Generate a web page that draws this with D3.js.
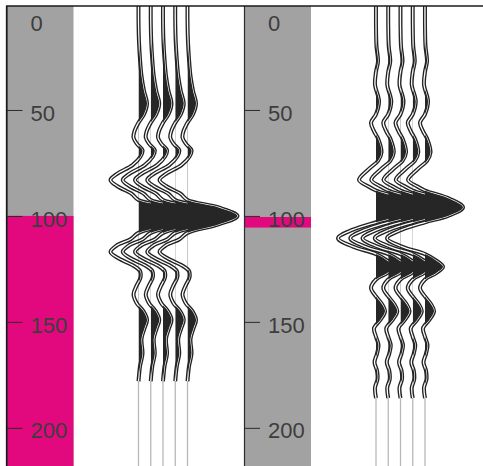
<!DOCTYPE html>
<html>
<head>
<meta charset="utf-8">
<script src="https://cdn.jsdelivr.net/npm/d3@7"></script>
<style>
  html, body { margin: 0; padding: 0; background: #fff; }
  svg { display: block; }
  .axis text { font-family: "Liberation Sans", Arial, sans-serif; font-size: 22px; fill: #3d3d3d; }
  .axis line, .axis path { stroke: #2b2b2b; }
</style>
</head>
<body>
<script>
// depth axis
const depthDomain = [0, 218];
const tickValues = [0, 50, 100, 150, 200];

// five identical traces per panel
const traceIds = [0, 1, 2, 3, 4];

// magenta layers (top, bottom) in depth units
const layerA = [100, 218];
const layerB = [100.5, 105.5];

// panel 1 wavelet: half-space reflection at 100
const waveATime = [0, 8, 18, 26, 34, 41, 47, 52, 56, 60, 63, 66, 69, 72, 76, 80, 83, 86, 89.5, 92.5,
  96, 100, 104, 108, 111, 114, 117, 120, 123.5, 126, 129, 133, 137, 141, 145, 149, 153, 158, 165, 171, 178];
const waveAAmp = [0, 0, 0.01, 0.03, 0.06, 0.11, 0.17, 0.11, 0, -0.08, -0.1, -0.03, 0.08, 0.04, -0.12, -0.42, -0.56, -0.42, -0.14, 0,
  0.62, 1.0, 0.62, 0, -0.16, -0.44, -0.56, -0.4, -0.1, 0.03, 0.04, -0.04, -0.1, -0.04, 0.1, 0.17, 0.12, 0.06, 0.08, 0.03, 0];

// panel 2 wavelet: thin layer 100-105
const waveBTime = [0, 10, 20, 27, 32, 38, 46, 52, 56, 60, 64, 70, 74, 78, 83, 86, 88, 92, 96, 100, 103,
  106.5, 110.5, 114.5, 118, 121, 124, 127, 130, 134, 138, 142, 145, 149, 153, 157, 161, 165, 169, 173, 177, 181, 186];
const waveBAmp = [0, 0, 0.01, 0.04, 0, -0.02, 0.06, 0, -0.1, -0.04, 0.05, 0.11, 0.04, -0.15, -0.34, -0.16, 0, 0.5, 0.76, 0.46, 0,
  -0.46, -0.76, -0.46, 0, 0.22, 0.36, 0.22, 0, -0.1, 0, 0.13, 0.18, 0.09, -0.04, 0, 0.05, 0.02, -0.03, 0.02, 0.03, -0.02, 0];

const W = 483, H = 466;
const frameTop = 6, gutter = 67;

const svg = d3.select('body').append('svg').attr('width', W).attr('height', H);

const y = d3.scaleLinear().domain(depthDomain).range([4, 466]);
const amp = d3.scaleLinear().domain([0, 1]).range([0, 50]);
const traceX = d3.scaleLinear().domain([0, 4]).range([132, 181]);

svg.append('clipPath').attr('id', 'frame')
  .append('rect').attr('x', -10).attr('y', frameTop).attr('width', W + 10).attr('height', H - frameTop);

const panels = [
  { left: 6.5, layer: layerA, t: waveATime, a: waveAAmp },
  { left: 244, layer: layerB, t: waveBTime, a: waveBAmp },
];

const tube = d3.line().curve(d3.curveCatmullRom);

panels.forEach((p, pi) => {
  const g = svg.append('g')
    .attr('transform', `translate(${p.left},0)`)
    .attr('clip-path', 'url(#frame)');

  g.append('rect')
    .attr('x', 0).attr('y', frameTop)
    .attr('width', gutter).attr('height', H - frameTop)
    .attr('fill', '#a2a2a2');

  g.append('rect')
    .attr('x', 0).attr('y', y(p.layer[0]))
    .attr('width', gutter).attr('height', y(p.layer[1]) - y(p.layer[0]))
    .attr('fill', '#e2097e');

  const axis = g.append('g').attr('class', 'axis')
    .call(d3.axisRight(y).tickValues(tickValues).tickSize(16).tickSizeOuter(0).tickPadding(8));
  axis.selectAll('text').attr('dy', d => d === 0 ? '1.2em' : '0.46em');
  axis.select('.domain').attr('stroke-width', 1.2);

  const traces = traceIds.map(i => {
    const base = traceX(i);
    return {
      base,
      pts: p.t.map((t, k) => [base + amp(p.a[k]), y(t)]),
      end: p.t[p.t.length - 1],
    };
  });

  // faint tails below the wavelet
  traces.forEach(tr => {
    g.append('line')
      .attr('x1', tr.base).attr('x2', tr.base)
      .attr('y1', y(tr.end)).attr('y2', H)
      .attr('stroke', '#b8b8b8').attr('stroke-width', 1.3);
  });

  // outlined wiggle lines
  traces.forEach(tr => {
    g.append('path').attr('d', tube(tr.pts))
      .attr('fill', 'none').attr('stroke', '#222').attr('stroke-width', 4);
    g.append('path').attr('d', tube(tr.pts))
      .attr('fill', 'none').attr('stroke', '#fff').attr('stroke-width', 1.3);
  });

  // positive lobes filled black
  traces.forEach((tr, i) => {
    const id = `pos-${pi}-${i}`;
    g.append('clipPath').attr('id', id)
      .append('rect').attr('x', tr.base).attr('y', 0).attr('width', 120).attr('height', H);
    const area = d3.area()
      .curve(d3.curveCatmullRom)
      .y(d => d[1])
      .x0(tr.base)
      .x1(d => d[0]);
    g.append('path').attr('d', area(tr.pts))
      .attr('clip-path', `url(#${id})`)
      .attr('fill', '#262626');
  });
});

// frame lines
svg.append('line').attr('x1', 6).attr('x2', W).attr('y1', frameTop).attr('y2', frameTop)
  .attr('stroke', '#1a1a1a').attr('stroke-width', 1.5);
svg.append('line').attr('x1', 6.5).attr('x2', 6.5).attr('y1', frameTop).attr('y2', H)
  .attr('stroke', '#1a1a1a').attr('stroke-width', 1.3);
</script>
</body>
</html>
